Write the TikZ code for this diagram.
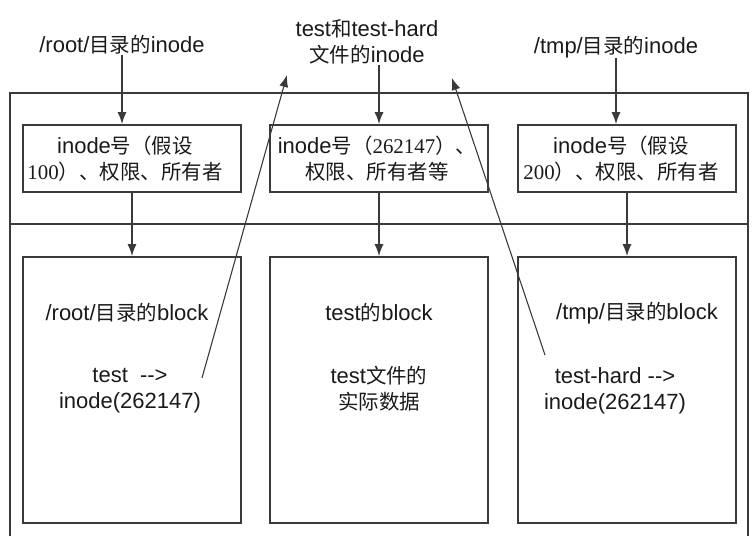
\documentclass[tikz,border=0pt]{standalone}
\usepackage{fontspec}
\setmainfont{Liberation Sans}
\newfontfamily\cjk[Scale=0.93]{Noto Sans CJK SC}
\newfontfamily\boxnum[Scale=0.95]{Liberation Serif}
\usetikzlibrary{positioning,arrows.meta}
\definecolor{linegray}{HTML}{3A3A3A}
\definecolor{textgray}{HTML}{1A1A1A}
\tikzstyle{ibox}=[draw=linegray, line width=1.6pt, minimum width=218pt, minimum height=67pt]
\tikzstyle{blk}=[draw=linegray, line width=1.6pt, minimum width=218pt, minimum height=266pt]
\tikzstyle{arrow}=[draw=linegray, line width=1.5pt, ->, >={Latex[length=12pt,width=9pt]}]
\tikzstyle{link}=[draw=linegray, line width=1.1pt, ->, >={Latex[length=12pt,width=9pt]}]
\tikzstyle{txt}=[align=center, inner sep=0pt]

\begin{document}
\begin{tikzpicture}[x=1pt,y=-1pt,font=\fontsize{22}{26}\selectfont,text=textgray]
\useasboundingbox (0,0) rectangle (755,536);
% outer frame, cut by the bottom edge
\draw[linegray, line width=1.8pt] (10,536) -- (10,93) -- (748,93) -- (748,536);
\draw[linegray, line width=1.5pt] (10,224) -- (748,224);
% labels on top
\node (lroot) [txt] at (122,45) {/root/{\cjk 目录的}inode};
\node (lboth) [txt] at (367,42) {test{\cjk 和}test-hard\\{\cjk 文件的}inode};
\node (ltmp) [txt] at (616,47) {/tmp/{\cjk 目录的}inode};
% inode boxes
\node (ibox1) [ibox] at (132,158.5) {};
\node (ibox2) [ibox] at (379,158.5) {};
\node (ibox3) [ibox] at (627,158.5) {};
\node (itext1) [txt] at (125,159) {inode{\cjk 号（假设}\\{\boxnum 100}{\cjk ）、权限、所有者}};
\node (itext2) [txt] at (377,159) {inode{\cjk 号（}{\boxnum 262147}{\cjk ）、}\\{\cjk 权限、所有者等}};
\node (itext3) [txt] at (621,159) {inode{\cjk 号（假设}\\{\boxnum 200}{\cjk ）、权限、所有者}};
% block boxes
\node (blk1) [blk] at (132,390) {};
\node (blk2) [blk] at (379,390) {};
\node (blk3) [blk] at (627,390) {};
\node (broot) [txt] at (127,313) {/root/{\cjk 目录的}block};
\node (bentry1) [txt] at (130,391) {test \ -{}-{}>\\inode(262147)};
\node (btest) [txt] at (379,313) {test{\cjk 的}block};
\node (bdata) [txt] at (379,389) {test{\cjk 文件的}\\{\cjk 实际数据}};
\node (btmp) [txt] at (637,313) {/tmp/{\cjk 目录的}block};
\node (bentry2) [txt] at (615,391) {test-hard -{}-{}>\\inode(262147)};
% free ends of the links
\coordinate (srcL) at (202,378);
\coordinate (tipL) at (287,75);
\coordinate (srcR) at (545,355);
\coordinate (tipR) at (452,78);
\draw[arrow] (lroot) -- (lroot |- ibox1.north);
\draw[arrow] (ibox1) -- (blk1);
\draw[arrow] (ibox2.north |- lboth.south) -- (ibox2.north);
\draw[arrow] (ibox2) -- (blk2);
\draw[arrow] (ltmp) -- (ltmp |- ibox3.north);
\draw[arrow] (ibox3) -- (blk3);
\draw[link] (srcL) -- (tipL);
\draw[link] (srcR) -- (tipR);
\end{tikzpicture}
\end{document}
